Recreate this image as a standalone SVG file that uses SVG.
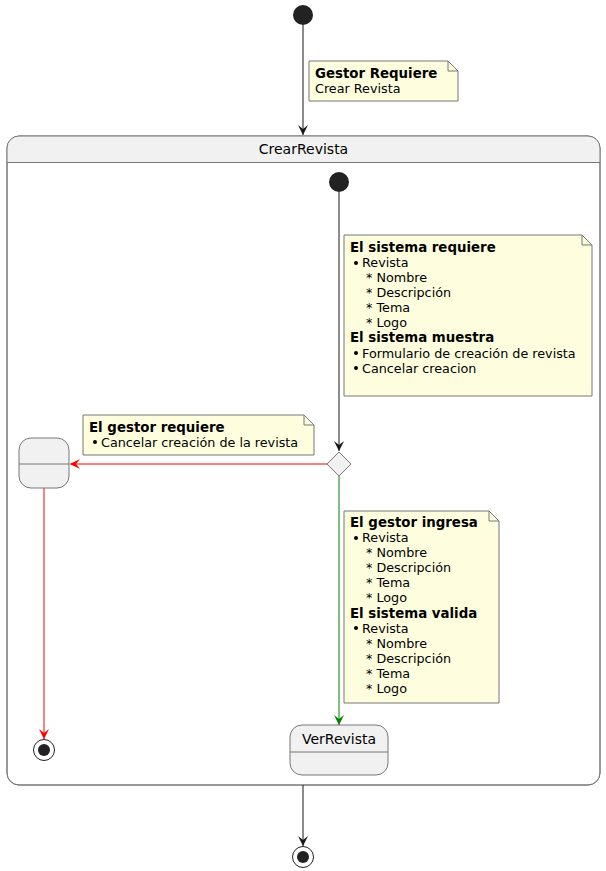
<svg xmlns="http://www.w3.org/2000/svg" width="606" height="871" viewBox="0 0 606 871">
<style>
text{font-family:"DejaVu Sans",sans-serif;fill:#000}
.nt{font-size:12.75px}
.b{font-weight:bold;font-size:13.35px}
.st{font-size:14px}
.note{fill:#FEFEDE;stroke:#777;stroke-width:1}
.state{fill:#F1F1F1;stroke:#777;stroke-width:1}
.ln{fill:none;stroke-width:1}
.blk{stroke:#181818}
.red{stroke:#FF0000}
.grn{stroke:#008000}
</style>
<defs>
<marker id="ab" viewBox="0 0 12 12" refX="10" refY="6" markerWidth="12" markerHeight="12" markerUnits="userSpaceOnUse" orient="auto"><path d="M0,1 L10,6 L0,11 L4,6 Z" fill="#181818"/></marker>
<marker id="ar" viewBox="0 0 12 12" refX="10" refY="6" markerWidth="12" markerHeight="12" markerUnits="userSpaceOnUse" orient="auto"><path d="M0,1 L10,6 L0,11 L4,6 Z" fill="#FF0000"/></marker>
<marker id="ag" viewBox="0 0 12 12" refX="10" refY="6" markerWidth="12" markerHeight="12" markerUnits="userSpaceOnUse" orient="auto"><path d="M0,1 L10,6 L0,11 L4,6 Z" fill="#008000"/></marker>
</defs>

<g id="composite-CrearRevista">
<rect x="7" y="136" width="593" height="649" rx="12" ry="12" fill="#FFFFFF" stroke="#777"/>
<path d="M7,162.5 L7,148 A12,12 0 0 1 19,136 L588,136 A12,12 0 0 1 600,148 L600,162.5 Z" fill="#F1F1F1"/>
<rect x="7" y="136" width="593" height="649" rx="12" ry="12" fill="none" stroke="#777"/>
<line x1="7" y1="162.5" x2="600" y2="162.5" stroke="#777"/>
<text class="st" x="303.5" y="153.5" text-anchor="middle">CrearRevista</text>
</g>

<g id="connectors">
<line class="ln blk" x1="303" y1="25" x2="303" y2="135" marker-end="url(#ab)"/>
<line class="ln blk" x1="339" y1="192" x2="339" y2="451" marker-end="url(#ab)"/>
<line class="ln red" x1="327" y1="464" x2="70" y2="464" marker-end="url(#ar)"/>
<line class="ln red" x1="44" y1="488" x2="44" y2="739" marker-end="url(#ar)"/>
<line class="ln grn" x1="339" y1="476" x2="339" y2="725" marker-end="url(#ag)"/>
<line class="ln blk" x1="303" y1="785" x2="303" y2="846" marker-end="url(#ab)"/>
</g>

<g id="start">
<circle cx="303" cy="15" r="10" fill="#222"/>
</g>

<g id="note1">
<path class="note" d="M309,61 L448,61 L458,71 L458,101 L309,101 Z"/>
<path d="M448,61 L448,71 L458,71" fill="none" stroke="#777"/>
<text class="nt b" x="315" y="78">Gestor Requiere</text>
<text class="nt" x="315" y="93">Crear Revista</text>
</g>

<g id="inner-start">
<circle cx="339" cy="182" r="10" fill="#222"/>
</g>

<g id="note2">
<path class="note" d="M344,235 L582,235 L592,245 L592,396 L344,396 Z"/>
<path d="M582,235 L582,245 L592,245" fill="none" stroke="#777"/>
<text class="nt b" x="350" y="252">El sistema requiere</text>
<circle cx="356" cy="263" r="2" fill="#000"/>
<text class="nt" x="362" y="267">Revista</text>
<text class="nt" x="366" y="282">* Nombre</text>
<text class="nt" x="366" y="297">* Descripción</text>
<text class="nt" x="366" y="312">* Tema</text>
<text class="nt" x="366" y="327">* Logo</text>
<text class="nt b" x="350" y="342">El sistema muestra</text>
<circle cx="356" cy="353" r="2" fill="#000"/>
<text class="nt" x="362" y="357.5">Formulario de creación de revista</text>
<circle cx="356" cy="368" r="2" fill="#000"/>
<text class="nt" x="362" y="372.5">Cancelar creacion</text>
</g>

<g id="choice">
<polygon points="339,452 351,464 339,476 327,464" fill="#F1F1F1" stroke="#777"/>
</g>

<g id="note3">
<path class="note" d="M83,415 L304,415 L314,425 L314,455 L83,455 Z"/>
<path d="M304,415 L304,425 L314,425" fill="none" stroke="#777"/>
<text class="nt b" x="89" y="432">El gestor requiere</text>
<circle cx="95" cy="442" r="2" fill="#000"/>
<text class="nt" x="101" y="446.5">Cancelar creación de la revista</text>
</g>

<g id="state-blank">
<rect class="state" x="19" y="438" width="50" height="50" rx="12" ry="12"/>
<line x1="19" y1="464" x2="69" y2="464" stroke="#777"/>
</g>

<g id="inner-end">
<circle cx="44" cy="750" r="10.5" fill="none" stroke="#222"/>
<circle cx="44" cy="750" r="6" fill="#222"/>
</g>

<g id="note4">
<path class="note" d="M344,511 L489,511 L499,521 L499,703 L344,703 Z"/>
<path d="M489,511 L489,521 L499,521" fill="none" stroke="#777"/>
<text class="nt b" x="350" y="527">El gestor ingresa</text>
<circle cx="356" cy="538" r="2" fill="#000"/>
<text class="nt" x="362" y="542">Revista</text>
<text class="nt" x="366" y="557">* Nombre</text>
<text class="nt" x="366" y="572">* Descripción</text>
<text class="nt" x="366" y="587">* Tema</text>
<text class="nt" x="366" y="602">* Logo</text>
<text class="nt b" x="350" y="617.5">El sistema valida</text>
<circle cx="356" cy="628" r="2" fill="#000"/>
<text class="nt" x="362" y="632.5">Revista</text>
<text class="nt" x="366" y="647.5">* Nombre</text>
<text class="nt" x="366" y="662.5">* Descripción</text>
<text class="nt" x="366" y="677.5">* Tema</text>
<text class="nt" x="366" y="693">* Logo</text>
</g>

<g id="state-VerRevista">
<rect class="state" x="290" y="725" width="98" height="50" rx="12" ry="12"/>
<line x1="290" y1="752" x2="388" y2="752" stroke="#777"/>
<text class="st" x="339" y="743.5" text-anchor="middle">VerRevista</text>
</g>

<g id="end">
<circle cx="303" cy="857" r="10.5" fill="none" stroke="#222"/>
<circle cx="303" cy="857" r="6" fill="#222"/>
</g>
</svg>
